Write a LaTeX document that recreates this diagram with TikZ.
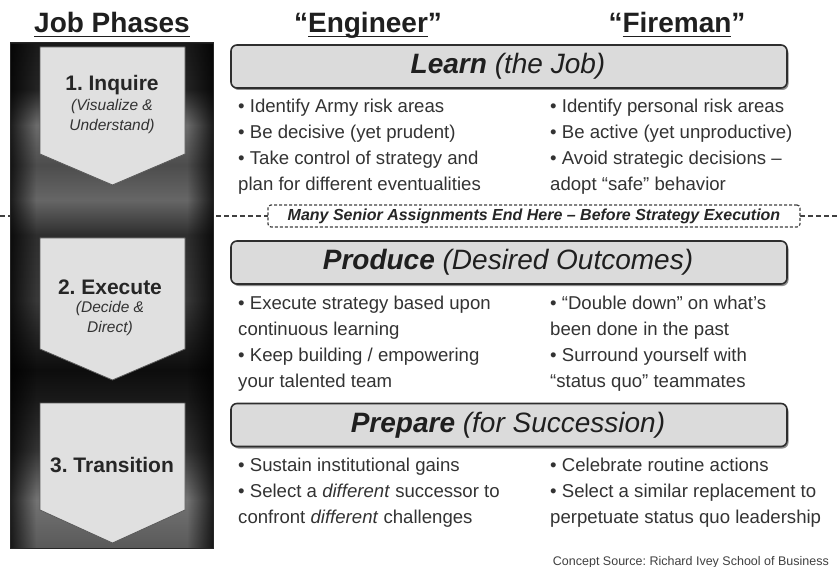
\documentclass[tikz,border=0pt]{standalone}
\usepackage{fontspec}
\setmainfont{Liberation Sans}
\usetikzlibrary{shadows,fadings}
\frenchspacing
\colorlet{cA}{black!90}
\colorlet{cB}{black!86}
\colorlet{cC}{black!58}
\colorlet{cD}{black!70}
\colorlet{cE}{black!60}
\colorlet{cF}{black!82}
\colorlet{cG}{black!78}
\colorlet{cH}{black!95}
\colorlet{cI}{black!90}
\colorlet{cJ}{black!80}
\colorlet{cK}{black!55}
\colorlet{cL}{black!65}
\pgfdeclareverticalshading{colshade}{100bp}{color(0bp)=(cL); color(25bp)=(cL); color(29.75bp)=(cK); color(34.7bp)=(cJ); color(39.65bp)=(cI); color(42.62bp)=(cH); color(49.55bp)=(cG); color(55.99bp)=(cF); color(59.46bp)=(cE); color(62.92bp)=(cD); color(66.88bp)=(cC); color(70.35bp)=(cB); color(75bp)=(cA); color(100bp)=(cA)}
\newsavebox\ulbox
\newcommand\myul[1]{\sbox\ulbox{#1}\rlap{\rule[-4.5pt]{\wd\ulbox}{1.6pt}}\usebox\ulbox}
\newcommand\mb{\textbullet\ }
\begin{document}
\begin{tikzpicture}[x=1pt,y=-1pt,
  header/.style={anchor=base, inner sep=0, font=\fontsize{28}{32}\selectfont\bfseries, text=black!88},
  chev/.style={fill=black!12, draw=black!65, line width=0.8pt},
  ctitle/.style={inner sep=0, font=\fontsize{21}{24}\selectfont\bfseries, text=black!85},
  csub/.style={inner sep=0, font=\fontsize{15.5}{18}\selectfont\itshape, text=black!80},
  hbox/.style={draw=black!82, line width=1.6pt, rounded corners=6pt, fill=black!14,
     minimum width=556pt, minimum height=43pt, inner sep=0,
     drop shadow={shadow xshift=1.5pt, shadow yshift=-2pt, fill=black!55, opacity=0.8}},
  htext/.style={inner sep=0, font=\fontsize{28}{32}\selectfont, text=black!88},
  bl/.style={anchor=base west, inner sep=0, font=\fontsize{18.6}{22}\selectfont, text=black!80},
  dashline/.style={draw=black!75, line width=1.2pt, dash pattern=on 5pt off 3pt},
  note/.style={draw=black!75, line width=1.2pt, dash pattern=on 3pt off 2pt, rounded corners=3pt,
     fill=white, minimum width=532pt, minimum height=22pt, inner sep=0,
     font=\fontsize{16}{18}\selectfont\bfseries\itshape, text=black!85},
  src/.style={anchor=base east, inner sep=0, font=\fontsize{12.5}{14}\selectfont, text=black!75}
]
\useasboundingbox (0,0) rectangle (839,567);
\fill[white] (0,0) rectangle (839,567);

% headers
\node[header] (hjob) at (112,33) {\myul{Job Phases}};
\node[header] (heng) at (368,33) {“\myul{Engineer}”};
\node[header] (hfir) at (677,33) {“\myul{Fireman}”};

% dashed separator
\coordinate (dl) at (0,216);
\coordinate (dr) at (839,216);
\draw[dashline] (dl) -- (dr);

% left column
\shade[shading=colshade] (10,43) rectangle (213,548);
\fill[black, path fading=east, fill opacity=0.75] (10,43) rectangle (36,548);
\fill[black, path fading=west, fill opacity=0.75] (187,43) rectangle (213,548);
\draw[black!85, line width=1pt] (10,43) rectangle (213,548);

% chevrons
\draw[chev] (40,47) -- (185,47) -- (185,154) -- (112.5,185) -- (40,154) -- cycle;
\draw[chev] (40,238) -- (185,238) -- (185,349) -- (112.5,380) -- (40,349) -- cycle;
\draw[chev] (40,403) -- (185,403) -- (185,510) -- (112.5,543) -- (40,510) -- cycle;

\node[ctitle] (c1) at (112,85) {1. Inquire};
\node[csub] (c1a) at (112,106) {(Visualize \&};
\node[csub] (c1b) at (112,126) {Understand)};
\node[ctitle] (c2) at (110,287) {2. Execute};
\node[csub] (c2a) at (110,308) {(Decide \&};
\node[csub] (c2b) at (110,328) {Direct)};
\node[ctitle] (c3) at (112,465) {3. Transition};

% note box
\node[note] (note) at (534,216) {Many Senior Assignments End Here – Before Strategy Execution};

% phase boxes
\node[hbox] (learn) at (509,66.5) {};
\node[htext] (learnt) at (508,66.5) {{\bfseries\itshape Learn} {\itshape (the Job)}};
\node[hbox] (produce) at (509,262.5) {};
\node[htext] (producet) at (508,262.5) {{\bfseries\itshape Produce} {\itshape (Desired Outcomes)}};
\node[hbox] (prepare) at (509,425) {};
\node[htext] (preparet) at (508,425) {{\bfseries\itshape Prepare} {\itshape (for Succession)}};

% Learn bullets
\node[bl] (le1) at (238,113) {\mb Identify Army risk areas};
\node[bl] (le2) at (238,139) {\mb Be decisive (yet prudent)};
\node[bl] (le3) at (238,165) {\mb Take control of strategy and};
\node[bl] (le4) at (238,191) {plan for different eventualities};
\node[bl] (lf1) at (550,113) {\mb Identify personal risk areas};
\node[bl] (lf2) at (550,139) {\mb Be active (yet unproductive)};
\node[bl] (lf3) at (550,165) {\mb Avoid strategic decisions –};
\node[bl] (lf4) at (550,191) {adopt “safe” behavior};

% Produce bullets
\node[bl] (pe1) at (238,309) {\mb Execute strategy based upon};
\node[bl] (pe2) at (238,335) {continuous learning};
\node[bl] (pe3) at (238,361) {\mb Keep building / empowering};
\node[bl] (pe4) at (238,387) {your talented team};
\node[bl] (pf1) at (550,309) {\mb “Double down” on what’s};
\node[bl] (pf2) at (550,335) {been done in the past};
\node[bl] (pf3) at (550,361) {\mb Surround yourself with};
\node[bl] (pf4) at (550,387) {“status quo” teammates};

% Prepare bullets
\node[bl] (re1) at (238,471) {\mb Sustain institutional gains};
\node[bl] (re2) at (238,497) {\mb Select a \textit{different} successor to};
\node[bl] (re3) at (238,523) {confront \textit{different} challenges};
\node[bl] (rf1) at (550,471) {\mb Celebrate routine actions};
\node[bl] (rf2) at (550,497) {\mb Select a similar replacement to};
\node[bl] (rf3) at (550,523) {perpetuate status quo leadership};

% source
\node[src] (source) at (829,565) {Concept Source: Richard Ivey School of Business};
\end{tikzpicture}
\end{document}
